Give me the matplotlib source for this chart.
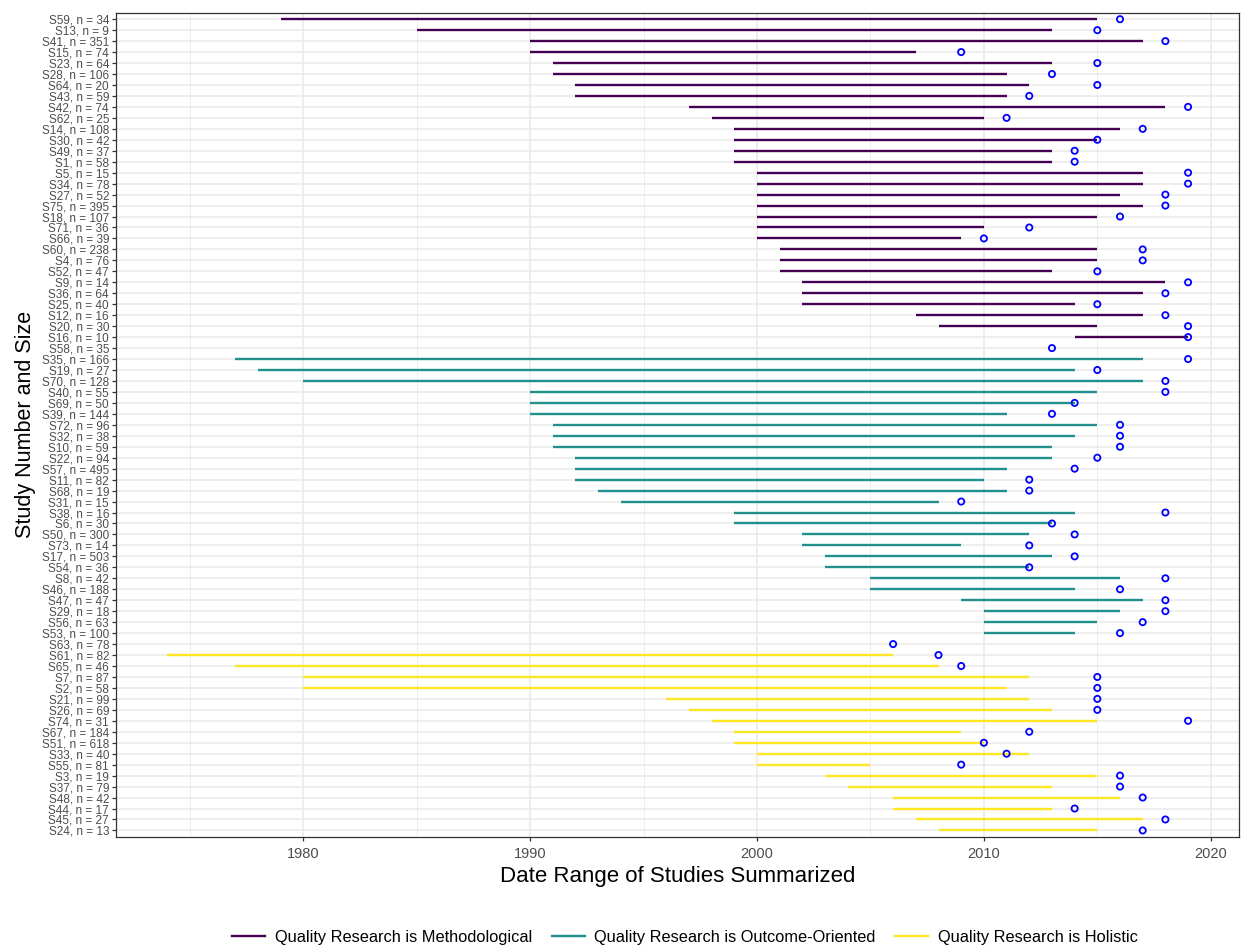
import matplotlib

matplotlib.use("Agg")
import matplotlib.pyplot as plt
import numpy as np
from matplotlib.lines import Line2D
from matplotlib.ticker import MultipleLocator

plt.rcParams["font.family"] = ["Liberation Sans", "DejaVu Sans"]

# study rows, top to bottom
labels = [
    "S59, n = 34", "S13, n = 9", "S41, n = 351", "S15, n = 74", "S23, n = 64", "S28, n = 106",
    "S64, n = 20", "S43, n = 59", "S42, n = 74", "S62, n = 25", "S14, n = 108", "S30, n = 42",
    "S49, n = 37", "S1, n = 58", "S5, n = 15", "S34, n = 78", "S27, n = 52", "S75, n = 395",
    "S18, n = 107", "S71, n = 36", "S66, n = 39", "S60, n = 238", "S4, n = 76", "S52, n = 47",
    "S9, n = 14", "S36, n = 64", "S25, n = 40", "S12, n = 16", "S20, n = 30", "S16, n = 10",
    "S58, n = 35",
    "S35, n = 166", "S19, n = 27", "S70, n = 128", "S40, n = 55", "S69, n = 50", "S39, n = 144",
    "S72, n = 96", "S32, n = 38", "S10, n = 59", "S22, n = 94", "S57, n = 495", "S11, n = 82",
    "S68, n = 19", "S31, n = 15", "S38, n = 16", "S6, n = 30", "S50, n = 300", "S73, n = 14",
    "S17, n = 503", "S54, n = 36", "S8, n = 42", "S46, n = 188", "S47, n = 47", "S29, n = 18",
    "S56, n = 63", "S53, n = 100", "S63, n = 78",
    "S61, n = 82", "S65, n = 46", "S7, n = 87", "S2, n = 58", "S21, n = 99", "S26, n = 69",
    "S74, n = 31", "S67, n = 184", "S51, n = 618", "S33, n = 40", "S55, n = 81", "S3, n = 19",
    "S37, n = 79", "S48, n = 42", "S44, n = 17", "S45, n = 27", "S24, n = 13",
]

nan = np.nan
start_year = [
    1979, 1985, 1990, 1990, 1991, 1991, 1992, 1992, 1997, 1998, 1999, 1999, 1999, 1999,
    2000, 2000, 2000, 2000, 2000, 2000, 2000, 2001, 2001, 2001, 2002, 2002, 2002, 2007,
    2008, 2014, nan,
    1977, 1978, 1980, 1990, 1990, 1990, 1991, 1991, 1991, 1992, 1992, 1992, 1993, 1994,
    1999, 1999, 2002, 2002, 2003, 2003, 2005, 2005, 2009, 2010, 2010, 2010, nan,
    1974, 1977, 1980, 1980, 1996, 1997, 1998, 1999, 1999, 2000, 2000, 2003, 2004, 2006,
    2006, 2007, 2008,
]
end_year = [
    2015, 2013, 2017, 2007, 2013, 2011, 2012, 2011, 2018, 2010, 2016, 2015, 2013, 2013,
    2017, 2017, 2016, 2017, 2015, 2010, 2009, 2015, 2015, 2013, 2018, 2017, 2014, 2017,
    2015, 2019, nan,
    2017, 2014, 2017, 2015, 2014, 2011, 2015, 2014, 2013, 2013, 2011, 2010, 2011, 2008,
    2014, 2013, 2012, 2009, 2013, 2012, 2016, 2014, 2017, 2016, 2015, 2014, nan,
    2006, 2008, 2012, 2011, 2012, 2013, 2015, 2009, 2010, 2012, 2005, 2015, 2013, 2016,
    2013, 2017, 2015,
]
pub_year = [
    2016, 2015, 2018, 2009, 2015, 2013, 2015, 2012, 2019, 2011, 2017, 2015, 2014, 2014,
    2019, 2019, 2018, 2018, 2016, 2012, 2010, 2017, 2017, 2015, 2019, 2018, 2015, 2018,
    2019, 2019, 2013,
    2019, 2015, 2018, 2018, 2014, 2013, 2016, 2016, 2016, 2015, 2014, 2012, 2012, 2009,
    2018, 2013, 2014, 2012, 2014, 2012, 2018, 2016, 2018, 2018, 2017, 2016, 2006,
    2008, 2009, 2015, 2015, 2015, 2015, 2019, 2012, 2010, 2011, 2009, 2016, 2016, 2017,
    2014, 2018, 2017,
]
group = [0] * 31 + [1] * 27 + [2] * 17

group_names = [
    "Quality Research is Methodological",
    "Quality Research is Outcome-Oriented",
    "Quality Research is Holistic",
]
group_colors = ["#440154", "#21908C", "#FDE725"]

n = len(labels)
y = np.arange(n)[::-1]
start_year = np.array(start_year, dtype=float)
end_year = np.array(end_year, dtype=float)
pub_year = np.array(pub_year, dtype=float)
group = np.array(group)

fig = plt.figure(figsize=(12.41, 9.49), dpi=100)
ax = fig.add_axes([0.0935, 0.118, 0.905, 0.8687])

for g, color in enumerate(group_colors):
    m = (group == g) & ~np.isnan(start_year)
    ax.hlines(y[m], start_year[m], end_year[m], colors=color, lw=1.7, zorder=3)

ax.scatter(pub_year, y, s=20, facecolors="none", edgecolors="blue", linewidths=1.3, zorder=4)

ax.set_xlim(1971.75, 2021.25)
ax.set_ylim(-0.6, n - 0.4)
ax.set_yticks(y)
ax.set_yticklabels(labels)
ax.xaxis.set_major_locator(MultipleLocator(10))
ax.xaxis.set_minor_locator(MultipleLocator(5))

ax.grid(True, which="major", color="#EBEBEB", lw=1.2, zorder=0)
ax.grid(True, which="minor", axis="x", color="#EBEBEB", lw=0.6, zorder=0)
ax.set_axisbelow(True)
for s in ax.spines.values():
    s.set_color("#333333")
    s.set_linewidth(0.9)

ax.tick_params(axis="y", labelsize=8.5, colors="#333333", labelcolor="#4D4D4D", length=3, width=0.9, pad=2)
ax.tick_params(axis="x", labelsize=10.5, colors="#333333", labelcolor="#4D4D4D", length=3, width=0.9, pad=4)
ax.tick_params(axis="x", which="minor", length=0)

ax.set_xlabel("Date Range of Studies Summarized", fontsize=16, labelpad=4)
ax.set_ylabel("Study Number and Size", fontsize=15.5, labelpad=4)

handles = [Line2D([0], [0], color=c, lw=1.7) for c in group_colors]
fig.legend(handles, group_names, loc="center", bbox_to_anchor=(0.552, 0.0126), ncol=3,
           frameon=False, fontsize=11.8, handlelength=2.0, columnspacing=1.2, handletextpad=0.6)

fig.savefig("out.png", dpi=100)
plt.close(fig)
